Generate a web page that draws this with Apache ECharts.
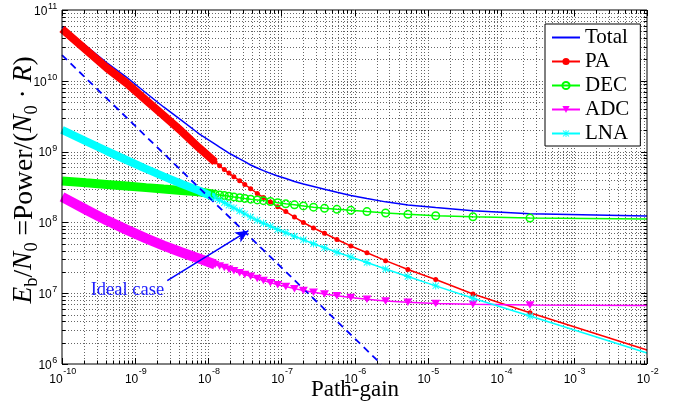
<!DOCTYPE html>
<html>
<head>
<meta charset="utf-8">
<script src="https://cdn.jsdelivr.net/npm/echarts@6/dist/echarts.min.js"></script>
<style>html,body{margin:0;padding:0;background:#fff;}#chart{width:681px;height:407px;}</style>
</head>
<body>
<div id="chart"></div>
<script>
// Path-gain sample points (x values of the data points / markers)
const gain = [1e-10, 2.14e-10, 4.07e-10, 7.59e-10, 1.41e-9, 2.45e-9, 4.27e-9, 7.41e-9,
  1.24e-8, 1.43e-8, 1.66e-8, 1.92e-8, 2.24e-8, 2.69e-8, 3.16e-8, 3.80e-8, 4.68e-8, 5.69e-8,
  7.08e-8, 8.91e-8, 1.15e-7, 1.51e-7, 2.00e-7, 2.75e-7, 3.89e-7, 5.75e-7, 8.91e-7, 1.48e-6,
  2.66e-6, 5.37e-6, 1.29e-5, 4.17e-5, 2.51e-4, 1e-2];
const total = [5.75e10, 3.10e10, 1.81e10, 1.13e10, 6.73e9, 4.27e9, 2.79e9, 1.80e9,
  1.28e9, 1.16e9, 1.05e9, 9.49e8, 8.73e8, 7.91e8, 7.22e8, 6.47e8, 5.86e8, 5.39e8,
  4.92e8, 4.52e8, 4.17e8, 3.78e8, 3.48e8, 3.21e8, 2.94e8, 2.66e8, 2.40e8, 2.17e8,
  1.95e8, 1.76e8, 1.62e8, 1.46e8, 1.32e8, 1.23e8];
const pa = [5.40e10, 2.72e10, 1.53e10, 9.31e9, 5.32e9, 3.24e9, 1.95e9, 1.14e9,
  7.13e8, 6.30e8, 5.57e8, 4.97e8, 4.42e8, 3.87e8, 3.43e8, 2.99e8, 2.56e8, 2.24e8,
  1.94e8, 1.67e8, 1.42e8, 1.19e8, 9.97e7, 8.34e7, 7.02e7, 5.73e7, 4.64e7, 3.73e7,
  2.88e7, 2.16e7, 1.56e7, 9.75e6, 5.31e6, 1.58e6];
const dec = [3.85e8, 3.62e8, 3.44e8, 3.27e8, 3.10e8, 2.96e8, 2.83e8, 2.71e8,
  2.49e8, 2.44e8, 2.39e8, 2.34e8, 2.29e8, 2.23e8, 2.18e8, 2.13e8, 2.08e8, 2.03e8,
  1.97e8, 1.90e8, 1.83e8, 1.77e8, 1.71e8, 1.64e8, 1.58e8, 1.53e8, 1.48e8, 1.42e8,
  1.36e8, 1.30e8, 1.24e8, 1.20e8, 1.15e8, 1.12e8];
const adc = [2.29e8, 1.51e8, 1.07e8, 7.91e7, 5.94e7, 4.70e7, 3.79e7, 3.10e7,
  2.54e7, 2.42e7, 2.30e7, 2.18e7, 2.07e7, 1.95e7, 1.84e7, 1.73e7, 1.61e7, 1.51e7,
  1.41e7, 1.32e7, 1.24e7, 1.16e7, 1.09e7, 1.03e7, 9.71e6, 9.18e6, 8.72e6, 8.23e6,
  7.79e6, 7.44e6, 7.18e6, 7.00e6, 6.81e6, 6.68e6];
const lna = [2.02e9, 1.39e9, 1.02e9, 7.61e8, 5.71e8, 4.47e8, 3.51e8, 2.82e8,
  2.22e8, 2.06e8, 1.90e8, 1.75e8, 1.60e8, 1.45e8, 1.32e8, 1.19e8, 1.07e8, 9.75e7,
  8.81e7, 7.94e7, 7.13e7, 6.37e7, 5.68e7, 4.99e7, 4.38e7, 3.78e7, 3.24e7, 2.72e7,
  2.20e7, 1.72e7, 1.27e7, 8.47e6, 4.76e6, 1.43e6];
// Ideal case (dashed) line end points
const idealGain = [1e-10, 2.31e-6];
const idealVal = [2.31e10, 1e6];
// Annotation arrow (tail, head) in data units
const arrowGain = [2.75e-9, 3.54e-8];
const arrowVal = [1.50e7, 7.64e7];
// Axis ranges and decade tick exponents
const xMin = 1e-10, xMax = 1e-2;
const yMin = 1e6, yMax = 1e11;
const xDecades = [-10, -9, -8, -7, -6, -5, -4, -3, -2];
const yDecades = [6, 7, 8, 9, 10, 11];
const seriesNames = ['Total', 'PA', 'DEC', 'ADC', 'LNA'];

const BAND_END = 8;      // points before this form the dense marker band
const LAST_MARK = gain.length - 2;

function pts(arr, withMarks) {
  return gain.map((g, i) => {
    const it = { value: [g, arr[i]] };
    if (!withMarks || i < BAND_END || i > LAST_MARK) it.symbol = 'none';
    return it;
  });
}
function band(arr) {
  return gain.slice(0, BAND_END + 1).map((g, i) => [g, arr[i]]);
}

// grid lines / ticks items (decades with 2..9 minors)
const gridItems = [];
xDecades.forEach(d => {
  for (let k = 1; k <= 9; k++) {
    const v = k * Math.pow(10, d);
    if (v > xMax * 1.0001) break;
    gridItems.push([v, yMin, 0, k === 1 ? 1 : 0, d]);
  }
});
yDecades.forEach(d => {
  for (let k = 1; k <= 9; k++) {
    const v = k * Math.pow(10, d);
    if (v > yMax * 1.0001) break;
    gridItems.push([xMin, v, 1, k === 1 ? 1 : 0, d]);
  }
});

const SANS = '"Liberation Sans", Arial, sans-serif';
const SERIF = '"Liberation Serif", "Times New Roman", serif';
const mctx = document.createElement('canvas').getContext('2d');
function tw(s, px) { mctx.font = px + 'px ' + SANS; return mctx.measureText(s).width; }

function renderGrid(params, api) {
  const cs = params.coordSys;
  const kind = api.value(2), major = api.value(3), dec = api.value(4);
  const L = major ? 6 : 3.5;
  const dotted = { stroke: '#000', lineWidth: 1, lineDash: [1, 2], opacity: 0.6 };
  const tick = { stroke: '#000', lineWidth: 1 };
  const ch = [];
  const p = api.coord([api.value(0), api.value(1)]);
  const es = dec < 0 ? '-' + (-dec) : '' + dec;
  if (kind === 0) {
    const px = Math.round(p[0]) + 0.5;
    const y0 = cs.y, y1 = cs.y + cs.height;
    if (px > cs.x + 2 && px < cs.x + cs.width - 2) {
      ch.push({ type: 'line', shape: { x1: px, y1: y0, x2: px, y2: y1 }, style: dotted });
    }
    ch.push({ type: 'line', shape: { x1: px, y1: y1, x2: px, y2: y1 - L }, style: tick });
    ch.push({ type: 'line', shape: { x1: px, y1: y0, x2: px, y2: y0 + L }, style: tick });
    if (major) {
      const w1 = tw('10', 12), w2 = tw(es, 9);
      const xs = p[0] - (w1 + w2) / 2 + 0.5;
      ch.push({ type: 'text', style: { text: '10', x: xs, y: y1 + 15.3, font: '12px ' + SANS, fill: '#000', align: 'left', verticalAlign: 'middle' } });
      ch.push({ type: 'text', style: { text: es, x: xs + w1 + 0.5, y: y1 + 7.8, font: '9px ' + SANS, fill: '#000', align: 'left', verticalAlign: 'middle' } });
    }
  } else {
    const py = Math.round(p[1]) + 0.5;
    const x0 = cs.x, x1 = cs.x + cs.width;
    if (py > cs.y + 2 && py < cs.y + cs.height - 2) {
      ch.push({ type: 'line', shape: { x1: x0, y1: py, x2: x1, y2: py }, style: dotted });
    }
    ch.push({ type: 'line', shape: { x1: x0, y1: py, x2: x0 + L, y2: py }, style: tick });
    ch.push({ type: 'line', shape: { x1: x1, y1: py, x2: x1 - L, y2: py }, style: tick });
    if (major) {
      const w2 = tw(es, 9);
      const xr = x0 - 4.7;
      ch.push({ type: 'text', style: { text: es, x: xr, y: p[1] - 3.5, font: '9px ' + SANS, fill: '#000', align: 'right', verticalAlign: 'middle' } });
      ch.push({ type: 'text', style: { text: '10', x: xr - w2 - 0.5, y: p[1] + 1.5, font: '12px ' + SANS, fill: '#000', align: 'right', verticalAlign: 'middle' } });
    }
  }
  return { type: 'group', children: ch };
}

const asterisk = 'path://M4.4,0h1.2v10h-1.2z M0,4.4h10v1.2h-10z M1.2,0.35l8.45,8.45 -0.85,0.85 -8.45,-8.45z M8.8,0.35l0.85,0.85 -8.45,8.45 -0.85,-0.85z';

const chart = echarts.init(document.getElementById('chart'), null, { renderer: 'canvas' });
chart.setOption({
  animation: false,
  backgroundColor: '#fff',
  grid: { left: 62, right: 34, top: 10, bottom: 43, show: true, borderColor: '#000', borderWidth: 1, backgroundColor: 'transparent', z: 3 },
  xAxis: {
    type: 'log', logBase: 10, min: xMin, max: xMax, splitNumber: 8,
    axisLine: { show: false }, axisTick: { show: false }, splitLine: { show: false },
    axisLabel: { show: false }
  },
  yAxis: {
    type: 'log', logBase: 10, min: yMin, max: yMax, splitNumber: 5,
    axisLine: { show: false }, axisTick: { show: false }, splitLine: { show: false },
    axisLabel: { show: false }
  },
  legend: {
    data: seriesNames, orient: 'vertical', left: 545, top: 24,
    itemWidth: 28, itemHeight: 9, itemGap: 3,
    padding: [3, 11, 2, 6],
    backgroundColor: '#fff', borderColor: '#000', borderWidth: 1, borderRadius: 0,
    textStyle: { fontFamily: 'Liberation Serif', fontSize: 21, color: '#000' },
    z: 10
  },
  graphic: [
    {
      type: 'text', x: 26, y: 180, rotation: Math.PI / 2, z: 10,
      style: {
        text: '{i|E}{s|b}{n|/}{i|N}{s|0}{n| =Power/(}{i|N}{s|0}{n| · }{i|R}{n|)}',
        align: 'center', verticalAlign: 'middle', fill: '#000',
        rich: {
          n: { fontFamily: 'Liberation Serif', fontSize: 27.5, lineHeight: 31, verticalAlign: 'top', fill: '#000' },
          i: { fontFamily: 'Liberation Serif', fontStyle: 'italic', fontSize: 27.5, lineHeight: 31, verticalAlign: 'top', fill: '#000' },
          s: { fontFamily: 'Liberation Serif', fontSize: 18.5, lineHeight: 17, verticalAlign: 'bottom', fill: '#000' }
        }
      }
    },
    {
      type: 'text', x: 355, y: 389.5, z: 10,
      style: { text: 'Path-gain', fill: '#000', font: '23px ' + SERIF, align: 'center', verticalAlign: 'middle' }
    },
    {
      type: 'text', x: 90.7, y: 290, z: 10,
      style: { text: 'Ideal case', fill: '#1e1eff', font: '18.5px ' + SERIF, align: 'left', verticalAlign: 'middle' }
    }
  ],
  series: [
    { type: 'custom', name: 'grid', coordinateSystem: 'cartesian2d', renderItem: renderGrid,
      data: gridItems, silent: true, z: 1, clip: false, encode: { x: 0, y: 1 } },
    { type: 'line', name: 'Total', data: pts(total, false), showSymbol: false, symbol: 'none', z: 2,
      lineStyle: { color: '#0000ff', width: 1.5 }, itemStyle: { color: 'rgba(0,0,255,0)' } },
    { type: 'line', name: 'PA band', data: band(pa), symbol: 'none', z: 2,
      lineStyle: { color: '#ff0000', width: 8 } },
    { type: 'line', name: 'PA', data: pts(pa, true), symbol: 'circle', symbolSize: 5, showAllSymbol: true, z: 2,
      lineStyle: { color: '#ff0000', width: 1.5 }, itemStyle: { color: '#ff0000' } },
    { type: 'line', name: 'DEC band', data: band(dec), symbol: 'none', z: 2,
      lineStyle: { color: '#00ff00', width: 9 } },
    { type: 'line', name: 'DEC', data: pts(dec, true), symbol: 'circle', symbolSize: 7.5, showAllSymbol: true, z: 2,
      lineStyle: { color: '#00ff00', width: 1.5 },
      itemStyle: { color: 'rgba(255,255,255,0)', borderColor: '#00ff00', borderWidth: 1.5 } },
    { type: 'line', name: 'ADC band', data: band(adc), symbol: 'none', z: 2,
      lineStyle: { color: '#ff00ff', width: 10 } },
    { type: 'line', name: 'ADC', data: pts(adc, true), symbol: 'triangle', symbolRotate: 180, symbolSize: [9, 7.5], showAllSymbol: true, z: 2,
      lineStyle: { color: '#ff00ff', width: 1.5 }, itemStyle: { color: '#ff00ff' } },
    { type: 'line', name: 'LNA band', data: band(lna), symbol: 'none', z: 2,
      lineStyle: { color: '#00ffff', width: 8 } },
    { type: 'line', name: 'LNA', data: pts(lna, true), symbol: asterisk, symbolSize: 7.5, showAllSymbol: true, z: 2,
      lineStyle: { color: '#00ffff', width: 1.5 }, itemStyle: { color: '#00ffff' } },
    { type: 'line', name: 'Ideal', data: idealGain.map((g, i) => [g, idealVal[i]]), symbol: 'none', z: 2,
      lineStyle: { color: '#0000ff', width: 1.8, type: [7, 5] },
      markLine: {
        silent: true, symbol: ['none', 'arrow'], symbolSize: [9, 13], label: { show: false },
        lineStyle: { color: '#0000ff', width: 1.5, type: 'solid' },
        data: [[{ coord: [arrowGain[0], arrowVal[0]] }, { coord: [arrowGain[1], arrowVal[1]] }]]
      } }
  ]
});
</script>
</body>
</html>
